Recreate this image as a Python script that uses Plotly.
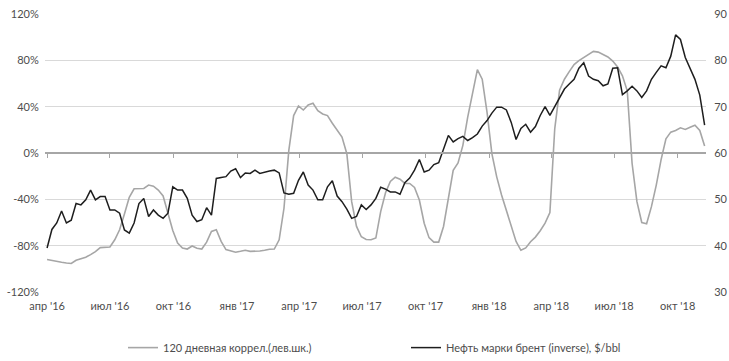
import pandas as pd
import plotly.graph_objects as go

# weekly observation dates
dates = pd.date_range("2016-04-01", periods=137, freq="7D")

# 120-day correlation, % (left axis)
corr = [
    -92, -92.9, -93.7, -94.3, -94.9, -95.4, -92.6, -91.4, -90, -87.7,
    -85.1, -81.7, -81.4, -81.1, -74.9, -66.3, -52.6, -38.3, -30.9, -30.6,
    -30.6, -27.7, -28.6, -32, -37.1, -52, -66.9, -77.7, -82, -82.9,
    -80.3, -82.3, -82.9, -77, -67.7, -66.3, -76.3, -83.4, -84.9, -85.7,
    -84.9, -84, -84.9, -84.9, -84.6, -84, -83.1, -82.9, -74.9, -47.7,
    2.3, 32.3, 40.6, 37.1, 41.4, 42.9, 36.6, 33.7, 32.3, 25.7,
    20, 13.7, -0.6, -42, -63.4, -72.3, -74.7, -74.9, -73.4, -50.6,
    -34.3, -24.6, -20.9, -22.6, -26.3, -26.3, -29.7, -40.6, -60.6, -73.1,
    -76.9, -76.9, -63.4, -37.7, -14.9, -8.6, 6.6, 30.9, 50.9, 72,
    63.7, 35.1, -0.6, -20.6, -36.3, -49.1, -62.9, -76.3, -84, -82,
    -76.6, -72.6, -67.1, -60.6, -51.4, 20.9, 54.3, 63.7, 70.3, 76.3,
    79.7, 82.3, 85.1, 87.7, 87.1, 85.1, 82.9, 79.4, 74.3, 66.6,
    53.7, -9.1, -42, -60, -61.1, -46.3, -27.7, -5.7, 12.3, 18,
    19.4, 21.7, 20.3, 22.3, 24, 19.4, 6,
]

# Brent, $/bbl (right axis)
brent = [
    39.5, 43.5, 44.9, 47.5, 44.9, 45.5, 49.1, 48.8, 49.9, 52.0,
    49.9, 50.6, 50.6, 47.7, 47.7, 47.0, 43.4, 42.7, 44.9, 49.1,
    50.2, 46.3, 47.7, 46.6, 45.9, 47.0, 52.7, 52.0, 52.0, 50.2,
    46.6, 45.2, 45.6, 48.2, 46.6, 54.5, 54.7, 54.9, 56.1, 56.6,
    54.7, 55.7, 55.6, 56.3, 55.6, 55.9, 56.1, 56.3, 55.7, 51.4,
    51.1, 51.3, 54.1, 55.9, 53.1, 52.0, 49.9, 49.9, 52.7, 54.0,
    50.7, 49.5, 47.9, 45.9, 46.3, 48.8, 47.8, 48.8, 50.2, 52.6,
    52.2, 51.6, 51.6, 51.1, 53.6, 54.6, 56.3, 58.6, 55.9, 56.3,
    57.5, 57.9, 61.1, 63.8, 62.4, 63.1, 63.6, 62.7, 63.3, 64.1,
    65.8, 67.0, 68.6, 69.9, 69.9, 69.3, 66.6, 62.9, 65.3, 66.2,
    64.5, 65.7, 68.1, 70.0, 68.1, 69.9, 72.0, 73.8, 74.9, 75.9,
    78.3, 79.5, 76.6, 75.9, 75.6, 74.5, 74.9, 78.3, 78.4, 72.6,
    73.4, 74.4, 73.4, 72.0, 73.4, 75.9, 77.4, 78.8, 78.4, 80.9,
    85.5, 84.5, 80.6, 78.4, 75.9, 72.5, 66.0,
]

tick_dates = ["2016-04-01", "2016-07-01", "2016-10-01", "2017-01-01", "2017-04-01",
              "2017-07-01", "2017-10-01", "2018-01-01", "2018-04-01", "2018-07-01",
              "2018-10-01"]
tick_labels = ["апр '16", "июл '16", "окт '16", "янв '17", "апр '17", "июл '17",
               "окт '17", "янв '18", "апр '18", "июл '18", "окт '18"]

name_corr = "120 дневная коррел.(лев.шк.)"
name_brent = "Нефть марки брент (inverse), $/bbl"

FONT = "Lato, 'Open Sans', sans-serif"
TXT = "#4d4d4d"
xrange = ["2016-03-29", "2018-11-11"]

fig = go.Figure()
fig.add_trace(go.Scatter(x=dates, y=corr, name=name_corr, mode="lines",
                         line=dict(color="#a6a6a6", width=1.6), yaxis="y"))
fig.add_trace(go.Scatter(x=dates, y=brent, name=name_brent, mode="lines",
                         line=dict(color="#1e1e1e", width=1.5), yaxis="y2"))

fig.update_layout(
    width=729, height=361,
    margin=dict(l=45, r=23, t=14, b=69, autoexpand=False),
    paper_bgcolor="white", plot_bgcolor="white",
    font=dict(family=FONT, size=11, color=TXT),
    showlegend=True,
    legend=dict(orientation="h", x=0.118, xanchor="left", y=-0.2, yanchor="middle",
                font=dict(family=FONT, size=11, color=TXT),
                entrywidth=238, entrywidthmode="pixels", traceorder="normal"),
    xaxis=dict(type="date", range=xrange, tickvals=tick_dates, ticktext=tick_labels,
               showgrid=False, showline=False, zeroline=False, automargin=False,
               ticks="outside", ticklen=4, tickcolor="rgba(0,0,0,0)",
               ticklabeloverflow="allow",
               tickfont=dict(family=FONT, size=11, color=TXT)),
    xaxis2=dict(type="date", range=xrange, tickvals=tick_dates, overlaying="x",
                anchor="free", position=0.5, side="bottom", automargin=False,
                showgrid=False, showline=True, linecolor="#a6a6a6", linewidth=1.5,
                ticks="outside", ticklen=4, tickcolor="#a6a6a6", tickwidth=1,
                showticklabels=False, zeroline=False),
    yaxis=dict(range=[-120, 120], tickvals=[-120, -80, -40, 0, 40, 80, 120],
               ticktext=["-120%", "-80%", "-40%", "0%", "40%", "80%", "120%"],
               showgrid=True, gridcolor="#d9d9d9", gridwidth=1, zeroline=False,
               showline=False, ticks="outside", ticklen=3, tickcolor="rgba(0,0,0,0)",
               automargin=False, ticklabeloverflow="allow",
               tickfont=dict(family=FONT, size=11, color=TXT)),
    yaxis2=dict(range=[30, 90], tickvals=[30, 40, 50, 60, 70, 80, 90],
                overlaying="y", side="right", showgrid=False, zeroline=False,
                showline=False, ticks="outside", ticklen=5, tickcolor="rgba(0,0,0,0)",
                automargin=False, ticklabeloverflow="allow",
                tickfont=dict(family=FONT, size=11, color=TXT)),
)
# empty trace to keep the zero-level axis drawn
fig.add_trace(go.Scatter(x=[dates[0]], y=[0], xaxis="x2", yaxis="y", mode="lines",
                         showlegend=False, hoverinfo="skip", line=dict(width=0)))

fig.write_html(
    "out.html",
    config={"displayModeBar": False},
    post_script="document.body.style.margin='0';document.body.style.overflow='hidden';",
)
